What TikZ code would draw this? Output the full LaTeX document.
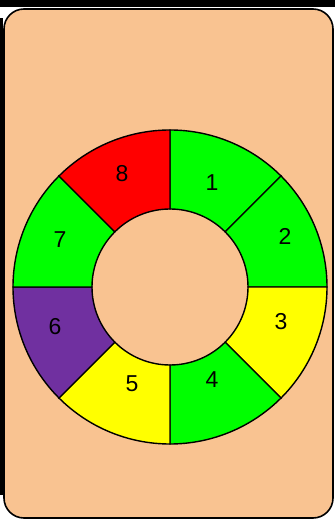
\documentclass[tikz,border=0pt]{standalone}
\usepackage{fontspec}
\setmainfont{Liberation Sans}
\usetikzlibrary{positioning}
\definecolor{cardfill}{HTML}{F9C391}
\definecolor{inkline}{HTML}{000000}
\definecolor{okgreen}{HTML}{00FF00}
\definecolor{badred}{HTML}{FF0000}
\definecolor{warnyel}{HTML}{FFFF00}
\definecolor{oddpurple}{HTML}{7030A0}
\newcommand{\rout}{157pt}
\newcommand{\rin}{78pt}
% one ring sector: start angle, end angle, fill colour
\newcommand{\ringseg}[3]{%
  \filldraw[seg, fill=#3] (#1:\rout) arc[start angle=#1, end angle=#2, radius=\rout]
    -- (#2:\rin) arc[start angle=#2, end angle=#1, radius=\rin] -- cycle;}

\begin{document}
\begin{tikzpicture}[
  x=1pt, y=1pt,
  font=\fontsize{23}{23}\selectfont,
  card/.style={draw=inkline, line width=1.6pt, fill=cardfill, rounded corners=20pt},
  seg/.style={draw=inkline, line width=1.4pt},
  num/.style={inner sep=0pt, text=inkline},
]
\useasboundingbox (0,0) rectangle (335,520);

% ---- frame ----
\fill[inkline] (0,513) rectangle (335,520);
\fill[inkline] (0,25) rectangle (3,502);
\draw[card] (4,2) rectangle (333,511);

% ---- ring ----
\begin{scope}[shift={(170,233)}]
  \coordinate (ctr) at (0,0);
  \ringseg{90}{45}{okgreen}
  \ringseg{45}{0}{okgreen}
  \ringseg{0}{-45}{warnyel}
  \ringseg{-45}{-90}{okgreen}
  \ringseg{-90}{-135}{warnyel}
  \ringseg{-135}{-180}{oddpurple}
  \ringseg{180}{135}{okgreen}
  \ringseg{135}{90}{badred}
\end{scope}

% ---- labels ----
\node[num] (s1) at (212,337) {1};
\node[num] (s2) at (285,284) {2};
\node[num] (s3) at (281,198) {3};
\node[num] (s4) at (212,140) {4};
\node[num] (s5) at (132,136) {5};
\node[num] (s6) at (55,193)  {6};
\node[num] (s7) at (60,280)  {7};
\node[num] (s8) at (122,346) {8};

\end{tikzpicture}
\end{document}
